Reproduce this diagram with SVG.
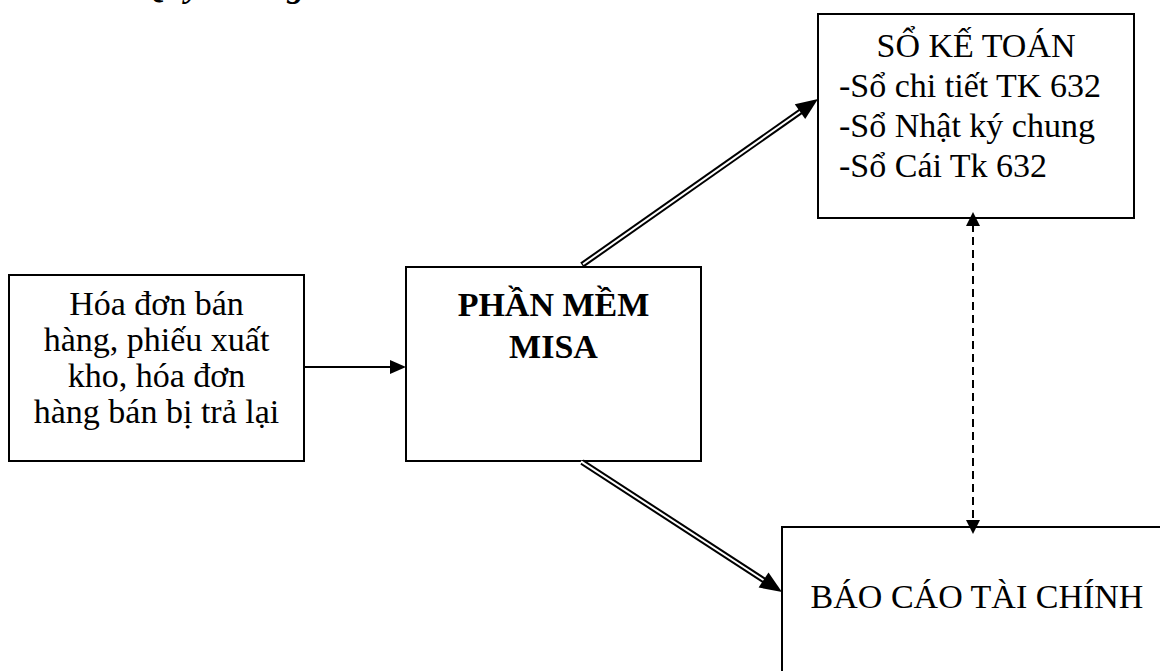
<svg xmlns="http://www.w3.org/2000/svg" width="1160" height="671" viewBox="0 0 1160 671">
<style>
.box{fill:#fff;stroke:#000;stroke-width:2}
.t{font-family:"Liberation Serif","Times New Roman",serif;font-size:34px;fill:#000}
.c{text-anchor:middle}
.b{font-weight:bold}
.dbl-o{stroke:#000;stroke-width:6;fill:none}
.dbl-i{stroke:#fff;stroke-width:2;fill:none}
</style>
<rect width="1160" height="671" fill="#fff"/>
<text class="t b" x="142" y="-3" font-style="italic" font-size="38">Quy trình ghi sổ</text>
<g id="chungtu">
<rect class="box" x="9" y="275" width="295" height="186"/>
<text class="t c" x="156.5" y="315">Hóa đơn bán</text>
<text class="t c" x="156.5" y="351">hàng, phiếu xuất</text>
<text class="t c" x="156.5" y="387">kho, hóa đơn</text>
<text class="t c" x="156.5" y="423">hàng bán bị trả lại</text>
</g>
<g id="misa">
<rect class="box" x="406" y="267" width="295" height="194"/>
<text class="t c b" x="553.5" y="316">PHẦN MỀM</text>
<text class="t c b" x="553.5" y="358">MISA</text>
</g>
<g id="sokt">
<rect class="box" x="818" y="14" width="316" height="204"/>
<text class="t c" x="976" y="57">SỔ KẾ TOÁN</text>
<text class="t" x="839" y="97">-Sổ chi tiết TK 632</text>
<text class="t" x="839" y="137">-Sổ Nhật ký chung</text>
<text class="t" x="839" y="177">-Sổ Cái Tk 632</text>
</g>
<g id="bctc">
<rect class="box" x="782" y="527" width="390" height="160"/>
<text class="t c" x="977" y="608">BÁO CÁO TÀI CHÍNH</text>
</g>
<g id="connectors">
<line x1="305" y1="367" x2="392" y2="367" stroke="#000" stroke-width="2"/>
<polygon points="406,367 390,360 390,374" fill="#000"/>
<line class="dbl-o" x1="582" y1="265" x2="802" y2="110.5"/>
<line class="dbl-i" x1="583" y1="264.3" x2="803" y2="109.8"/>
<polygon points="818,99 805.2,119 794.8,104.3" fill="#000"/>
<line class="dbl-o" x1="582" y1="462" x2="765" y2="581"/>
<line class="dbl-i" x1="581" y1="461.3" x2="766" y2="581.7"/>
<polygon points="782,592 758.6,587.5 768.5,572.5" fill="#000"/>
<line x1="973" y1="224" x2="973" y2="522" stroke="#000" stroke-width="2" stroke-dasharray="8,5"/>
<polygon points="973,212 966,226 980,226" fill="#000"/>
<polygon points="973,534 966,520 980,520" fill="#000"/>
</g>
</svg>
